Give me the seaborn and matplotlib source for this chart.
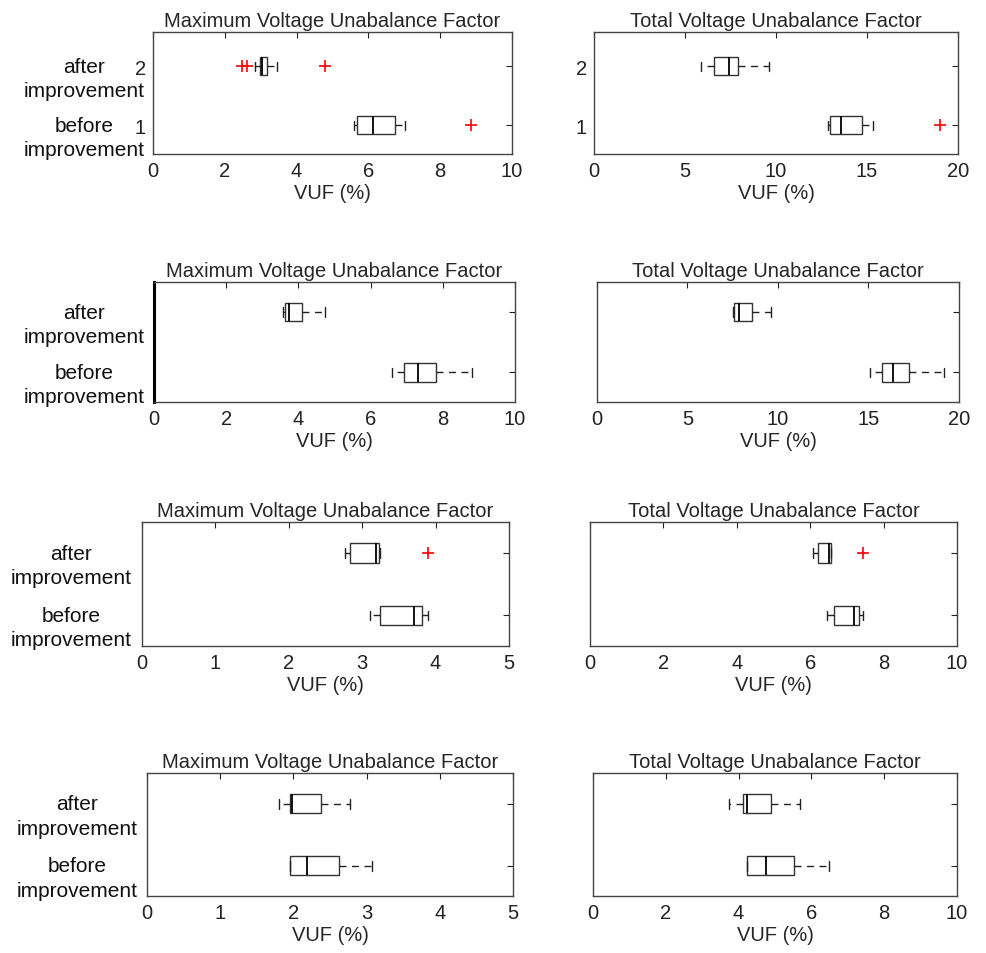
import numpy as np
import pandas as pd
import seaborn as sns
import matplotlib.pyplot as plt
from matplotlib import transforms

# Box summaries: [whisker low, q1, median, q3, whisker high]
# first entry = after improvement, second = before improvement
case1_max = [[2.84, 2.97, 3.05, 3.17, 3.45], [5.61, 5.68, 6.12, 6.73, 7.03]]
case1_max_out = [[2.47, 2.61, 4.79], [8.85]]
case1_total = [[5.88, 6.57, 7.43, 7.91, 9.64], [12.88, 12.96, 13.56, 14.71, 15.31]]
case1_total_out = [[], [18.99]]

case2_max = [[3.58, 3.64, 3.75, 4.11, 4.75], [6.60, 6.93, 7.32, 7.81, 8.81]]
case2_max_out = [[], []]
case2_total = [[7.50, 7.57, 7.85, 8.55, 9.60], [15.11, 15.76, 16.37, 17.24, 19.17]]
case2_total_out = [[], []]

case3_max = [[2.76, 2.84, 3.19, 3.23, 3.24], [3.11, 3.24, 3.71, 3.82, 3.90]]
case3_max_out = [[3.89], []]
case3_total = [[6.07, 6.21, 6.52, 6.56, 6.56], [6.47, 6.64, 7.18, 7.32, 7.44]]
case3_total_out = [[7.43], []]

case4_max = [[1.80, 1.96, 1.98, 2.38, 2.78], [1.96, 1.96, 2.18, 2.62, 3.07]]
case4_max_out = [[], []]
case4_total = [[3.73, 4.11, 4.24, 4.88, 5.68], [4.24, 4.24, 4.74, 5.52, 6.49]]
case4_total_out = [[], []]

groups = ['after', 'before']
group_labels = [['after', 'improvement'], ['before', 'improvement']]
titles = ['Maximum Voltage Unabalance Factor', 'Total Voltage Unabalance Factor']
xlims = [(10, 2), (20, 5), (10, 2), (20, 5), (5, 1), (10, 2), (5, 1), (10, 2)]

panels = [(case1_max, case1_max_out), (case1_total, case1_total_out),
          (case2_max, case2_max_out), (case2_total, case2_total_out),
          (case3_max, case3_max_out), (case3_total, case3_total_out),
          (case4_max, case4_max_out), (case4_total, case4_total_out)]


def box_sample(summary, outliers):
    """Sample of 4k+1 values whose quartiles / whiskers equal the read summary."""
    lo, q1, med, q3, hi = summary
    below = sorted(v for v in outliers if v < q1) + [lo]
    above = [hi] + sorted(v for v in outliers if v > q3)
    k = max(len(below), len(above))
    return (below + [q1] * (2 * k - len(below)) + [med] * k
            + [q3] * (k - len(above) + 1) + above)


W, H = 987, 954
# axes boxes in pixels: x0, x1, y_top, y_bottom
axes_px = [(153, 512, 33, 155), (594, 958, 33, 155),
           (154, 515, 283, 403), (597, 959, 283, 403),
           (142, 509, 523, 647), (590, 957, 523, 647),
           (147, 513, 774, 897), (593, 957, 774, 897)]
label_x = [84, 84, 71, 77]

sns.set_style('white')
plt.rcParams['font.family'] = ['Liberation Sans', 'DejaVu Sans']
fs = 14.5

fig = plt.figure(figsize=(W / 100, H / 100), dpi=100)

for i, ((summ, outs), (x0, x1, yt, yb)) in enumerate(zip(panels, axes_px)):
    ax = fig.add_axes([x0 / W, 1 - yb / H, (x1 - x0) / W, (yb - yt) / H])
    rows = []
    for g, s, o in zip(groups, summ, outs):
        for v in box_sample(s, o):
            rows.append({'group': g, 'vuf': v})
    df = pd.DataFrame(rows)

    sns.boxplot(data=df, x='vuf', y='group', order=groups, orient='h', ax=ax,
                width=0.31, whis=1.5, color='white', linecolor='#333333', linewidth=1,
                medianprops={'color': 'black', 'linewidth': 1.3},
                whiskerprops={'color': '#222222', 'linestyle': (0, (5, 4)), 'linewidth': 1},
                capprops={'color': '#222222', 'linewidth': 1},
                flierprops={'marker': '+', 'markeredgecolor': 'red', 'markerfacecolor': 'red',
                            'markersize': 9, 'markeredgewidth': 1.2, 'linestyle': 'none'})

    xmax, step = xlims[i]
    ax.set_xlim(0, xmax)
    ax.set_xticks(np.arange(0, xmax + step / 2, step))
    ax.set_yticks([0, 1])
    if i < 2:
        ax.set_ylim(1.49, -0.58)
        ax.set_yticklabels(['2', '1'], fontsize=fs)
    else:
        ax.set_ylim(1.49, -0.5)
        ax.set_yticklabels(['', ''])
    ax.set_xlabel('VUF (%)', fontsize=fs, labelpad=2)
    ax.set_ylabel('')
    ax.set_title(titles[i % 2], fontsize=fs, pad=4)
    ax.tick_params(axis='both', direction='in', length=4, width=0.8, top=True, right=True,
                   labelsize=fs, colors='#222222', pad=5)
    for sp in ax.spines.values():
        sp.set_visible(True)
        sp.set_color('#444444')
        sp.set_linewidth(1)
    if i == 2:
        ax.spines['left'].set_linewidth(2.2)
        ax.spines['left'].set_color('black')

    # two-line category labels: first line level with the tick, second line below
    if i % 2 == 0:
        base = transforms.blended_transform_factory(fig.transFigure, ax.transData)
        for pos, lines in enumerate(group_labels):
            for j, line in enumerate(lines):
                tr = base + transforms.ScaledTranslation(0, -0.245 * j, fig.dpi_scale_trans)
                ax.text(label_x[i // 2] / W, pos, line, transform=tr, ha='center', va='center',
                        fontsize=15, color='#111111')

fig.savefig('out.png', dpi=100)
